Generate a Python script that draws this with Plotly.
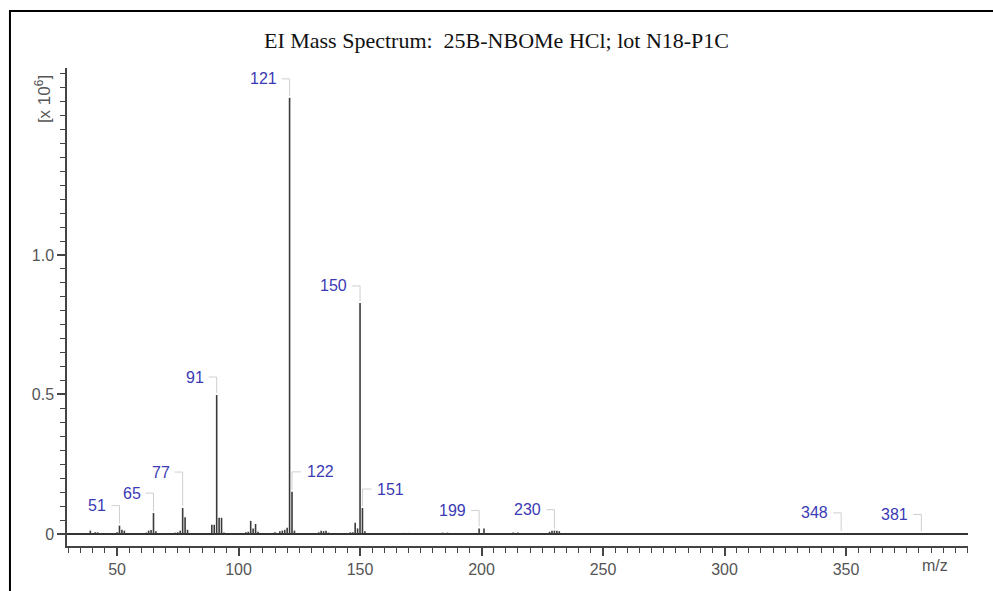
import plotly.graph_objects as go

# ---- data (intensity in units of 10^6) ----
mz = [39, 41, 42, 43, 50, 51, 52, 53, 55, 62, 63, 64, 65, 66,
      74, 75, 76, 77, 78, 79, 89, 90, 91, 92, 93, 94,
      103, 104, 105, 106, 107, 108, 115, 117, 118, 119, 120, 121, 122, 123,
      133, 134, 135, 136, 137, 145, 146, 147, 148, 149, 150, 151, 152,
      164, 168, 170, 184, 186, 199, 201, 213, 215, 228, 229, 230, 231, 232, 244,
      346, 348, 381]
intensity = [0.012, 0.006, 0.006, 0.004, 0.006, 0.030, 0.015, 0.012, 0.004,
             0.005, 0.012, 0.014, 0.075, 0.010,
             0.005, 0.006, 0.012, 0.093, 0.060, 0.015,
             0.033, 0.033, 0.498, 0.058, 0.058, 0.005,
             0.006, 0.008, 0.047, 0.020, 0.036, 0.008,
             0.006, 0.010, 0.012, 0.015, 0.022, 1.563, 0.151, 0.012,
             0.006, 0.012, 0.010, 0.012, 0.005,
             0.004, 0.006, 0.006, 0.040, 0.020, 0.828, 0.093, 0.010,
             0.004, 0.004, 0.004, 0.005, 0.005, 0.020, 0.020, 0.005, 0.005,
             0.008, 0.012, 0.012, 0.012, 0.010, 0.003,
             0.003, 0.004, 0.002]

label_mz = [51, 65, 77, 91, 121, 122, 150, 151, 199, 230, 348, 381]
# label placement (style): side of the peak and pixel offsets
label_side = ["L", "L", "L", "L", "L", "R", "L", "R", "L", "L", "L", "L"]
label_dy = [20, 20, 36, 18, 19, 20, 17, 19, 18, 21, 20, 19]

x_ticks = [50, 100, 150, 200, 250, 300, 350]
y_ticks = [0, 0.5, 1.0]
y_tick_text = ["0", "0.5", "1.0"]

# ---- stick spectrum ----
xs, ys = [], []
for m, v in zip(mz, intensity):
    xs += [m, m, None]
    ys += [0, v, None]

fig = go.Figure()
fig.add_trace(go.Scatter(x=xs, y=ys, mode="lines",
                         line=dict(color="#3a3a3a", width=1.6),
                         hoverinfo="skip", showlegend=False))

lookup = dict(zip(mz, intensity))
annotations = []
shapes = []
lead_col = "#cfcfcf"
lab_font = dict(family="Liberation Sans, Arial", size=16, color="#3a3ab4")
for m, side, dy in zip(label_mz, label_side, label_dy):
    h = lookup[m]
    if side == "L":
        annotations.append(dict(x=m, y=h, xref="x", yref="y", text=str(m),
                                showarrow=False, xanchor="right", yanchor="middle",
                                xshift=-11, yshift=dy, font=lab_font))
        hx0, hx1 = 0, -8
    else:
        annotations.append(dict(x=m, y=h, xref="x", yref="y", text=str(m),
                                showarrow=False, xanchor="left", yanchor="middle",
                                xshift=13, yshift=dy, font=lab_font))
        hx0, hx1 = 0, 9
    shapes.append(dict(type="line", xref="x", yref="y", x0=m, x1=m,
                       ysizemode="pixel", yanchor=h, y0=2, y1=dy,
                       line=dict(color=lead_col, width=1)))
    shapes.append(dict(type="line", xref="x", yref="y",
                       xsizemode="pixel", xanchor=m, x0=hx0, x1=hx1,
                       ysizemode="pixel", yanchor=h, y0=dy, y1=dy,
                       line=dict(color=lead_col, width=1)))

# outer frame
shapes.append(dict(type="rect", xref="paper", yref="paper",
                   x0=-0.0633, x1=1.05, y0=-0.2, y1=1.119,
                   line=dict(color="black", width=2), layer="below"))

annotations.append(dict(xref="paper", yref="paper", x=-0.0266, y=0.935,
                        xanchor="center", yanchor="middle",
                        text="[x 10<sup>6</sup>]", textangle=-90, showarrow=False,
                        font=dict(family="Liberation Sans, Arial", size=17, color="#555555")))
annotations.append(dict(xref="paper", yref="paper", x=0.98, y=-0.04,
                        text="m/z", showarrow=False, yanchor="middle",
                        font=dict(family="Liberation Sans, Arial", size=16, color="#555555")))

fig.update_layout(
    width=993, height=591,
    margin=dict(l=67, r=25, t=68, b=45),
    paper_bgcolor="white", plot_bgcolor="white",
    title=dict(text="EI Mass Spectrum:  25B-NBOMe HCl; lot N18-P1C",
               x=0.5, xanchor="center", y=1 - 40 / 591, yanchor="middle",
               font=dict(family="Liberation Serif, Times New Roman", size=22, color="#111111")),
    annotations=annotations, shapes=shapes,
    xaxis=dict(range=[29.4, 400.2], showgrid=False, zeroline=False,
               showline=True, linecolor="#444444", linewidth=1.5,
               tickmode="array", tickvals=x_ticks,
               ticks="outside", ticklen=8, tickwidth=1.5, tickcolor="#444444",
               minor=dict(dtick=5, tick0=0, ticks="outside", ticklen=5,
                          tickwidth=1, tickcolor="#444444"),
               tickfont=dict(family="Liberation Sans, Arial", size=16, color="#555555")),
    yaxis=dict(range=[-0.043, 1.67], showgrid=False,
               zeroline=True, zerolinecolor="#333333", zerolinewidth=2,
               showline=True, linecolor="#444444", linewidth=1.5,
               tickmode="array", tickvals=y_ticks, ticktext=y_tick_text,
               ticks="outside", ticklen=8, tickwidth=1.5, tickcolor="#444444",
               minor=dict(dtick=0.05, tick0=0, ticks="outside", ticklen=5,
                          tickwidth=1, tickcolor="#444444"),
               tickfont=dict(family="Liberation Sans, Arial", size=16, color="#555555")),
)

fig.write_html("out.html")
